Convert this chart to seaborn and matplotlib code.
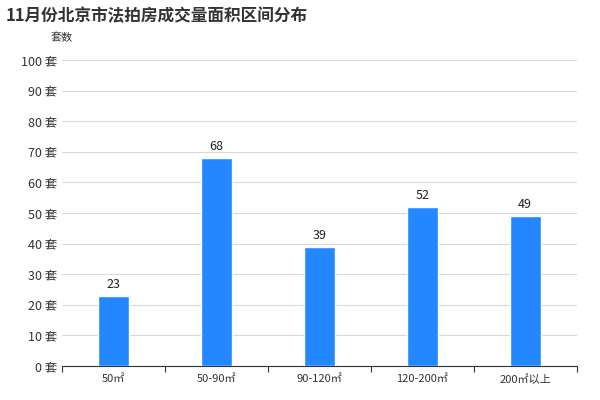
import matplotlib
matplotlib.use("Agg")
import matplotlib.pyplot as plt
import seaborn as sns
import pandas as pd

categories = ["50㎡", "50-90㎡", "90-120㎡", "120-200㎡", "200㎡以上"]
counts = [23, 68, 39, 52, 49]
yticks = [0, 10, 20, 30, 40, 50, 60, 70, 80, 90, 100]

sns.set_style("white")
plt.rcParams['font.family'] = ['Noto Sans CJK SC', 'DejaVu Sans']

df = pd.DataFrame({"area": categories, "count": counts})

fig = plt.figure(figsize=(6, 4), dpi=100)
ax = fig.add_axes([0.103, 0.085, 0.858, 0.765])

sns.barplot(data=df, x="area", y="count", color="#2388FF", saturation=1,
            width=0.3, ax=ax, zorder=3)

ax.set_xlim(-0.5, len(categories) - 0.5)
ax.set_ylim(0, 100)
ax.set_yticks(yticks)
ax.set_yticklabels([f"{v} 套" for v in yticks], fontsize=9, color="#333333")
# category boundary ticks
ax.set_xticks([i - 0.5 for i in range(len(categories) + 1)], minor=True)
ax.tick_params(axis="x", which="major", labelsize=8, colors="#333333", length=0, pad=6)
ax.tick_params(axis="x", which="minor", bottom=True, length=4, width=0.8, color="#333333")
ax.tick_params(axis="y", length=0)
ax.grid(axis="y", color="#d9d9d9", linewidth=0.8, zorder=0)
ax.set_xlabel("")
ax.set_ylabel("")
for s in ["top", "right", "left"]:
    ax.spines[s].set_visible(False)
ax.spines["bottom"].set_color("#333333")

for i, v in enumerate(counts):
    ax.text(i, v + 1.5, str(v), ha="center", va="bottom", fontsize=9, color="#222222")

fig.text(0.01, 0.96, "11月份北京市法拍房成交量面积区间分布", fontsize=12,
         fontweight="bold", color="#333333", ha="left", va="center")
fig.text(0.085, 0.905, "套数", fontsize=8, color="#333333", ha="left", va="center")

fig.savefig("out.png", dpi=100)
